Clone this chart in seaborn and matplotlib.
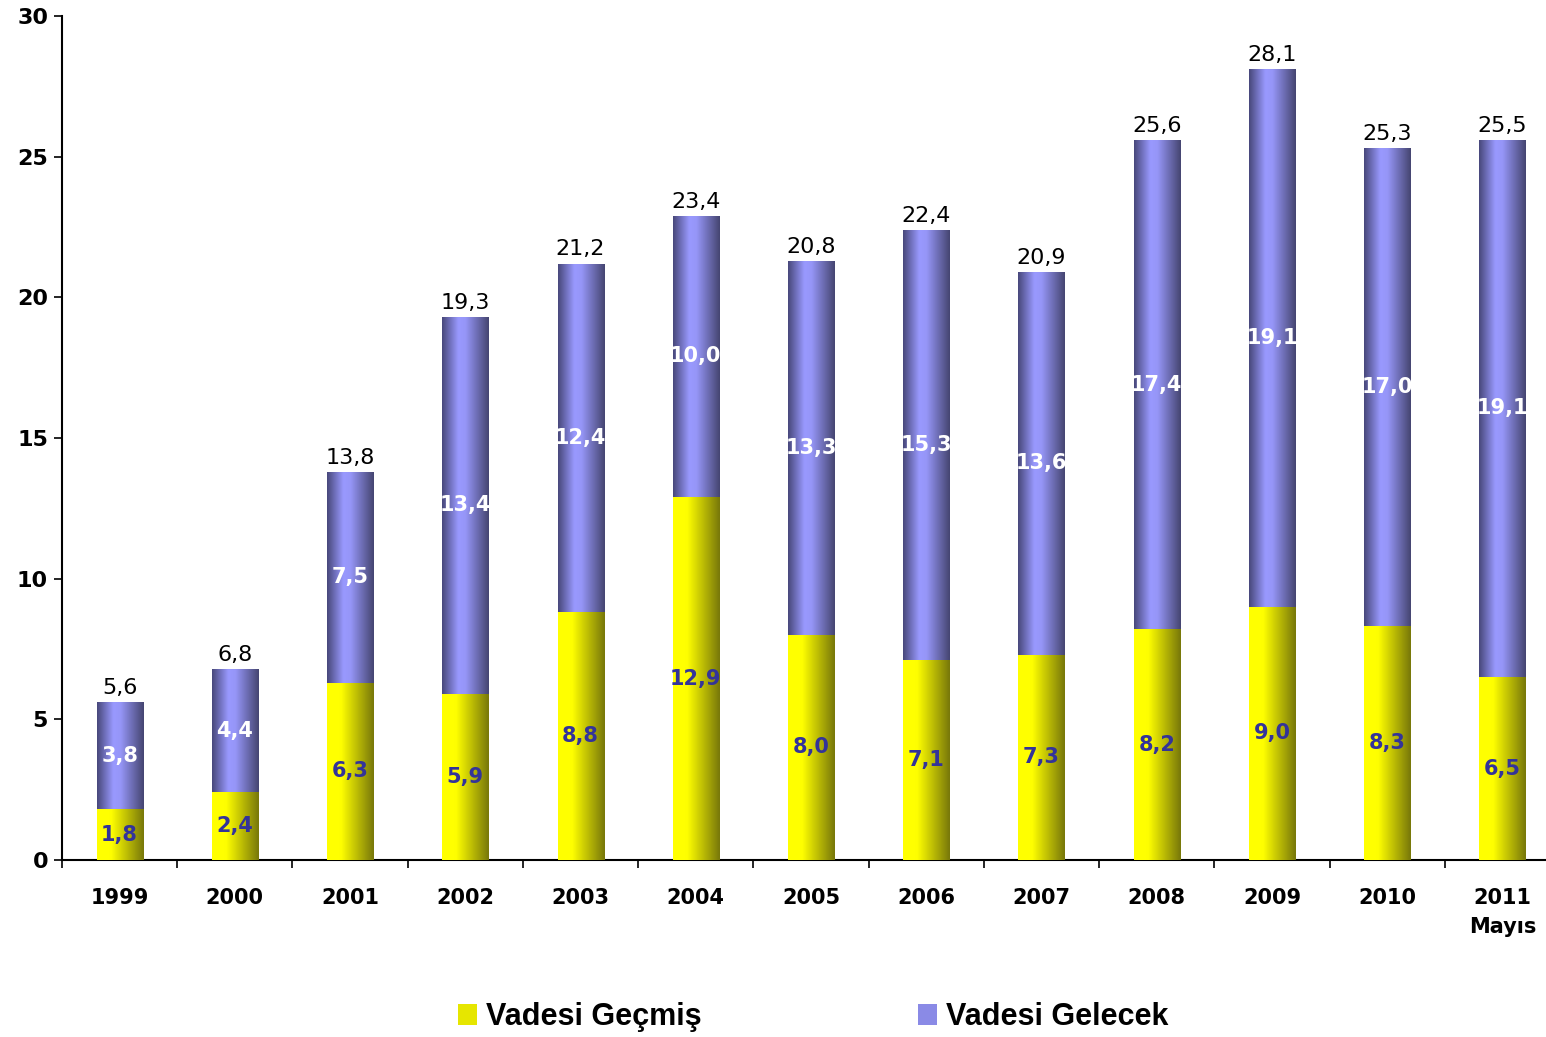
import numpy as np
import pandas as pd
import matplotlib
matplotlib.use("Agg")
import matplotlib.pyplot as plt
import seaborn as sns
from matplotlib.colors import LinearSegmentedColormap
from matplotlib.patches import Patch

years = ["1999", "2000", "2001", "2002", "2003", "2004", "2005",
         "2006", "2007", "2008", "2009", "2010", "2011\nMayıs"]
vadesi_gecmis = [1.8, 2.4, 6.3, 5.9, 8.8, 12.9, 8.0, 7.1, 7.3, 8.2, 9.0, 8.3, 6.5]
vadesi_gelecek = [3.8, 4.4, 7.5, 13.4, 12.4, 10.0, 13.3, 15.3, 13.6, 17.4, 19.1, 17.0, 19.1]
toplam = [5.6, 6.8, 13.8, 19.3, 21.2, 23.4, 20.8, 22.4, 20.9, 25.6, 28.1, 25.3, 25.5]
y_ticks = [0, 5, 10, 15, 20, 25, 30]

yellow_cmap = LinearSegmentedColormap.from_list(
    "yel", [(0, "#ffff00"), (0.3, "#ffff00"), (1, "#77770a")])
purple_cmap = LinearSegmentedColormap.from_list(
    "pur", [(0, "#47477a"), (0.35, "#9999ff"), (0.5, "#9696f8"), (1, "#454570")])


def fmt(v):
    return f"{v:.1f}".replace(".", ",")


def paint_gradient(ax, patches, cmap, z):
    grad = np.linspace(0, 1, 256).reshape(1, -1)
    for p in patches:
        x0, y0 = p.get_x(), p.get_y()
        w, h = p.get_width(), p.get_height()
        im = ax.imshow(grad, cmap=cmap, extent=[x0, x0 + w, y0, y0 + h],
                       aspect="auto", zorder=z, interpolation="bicubic")
        im.set_clip_path(p)
        p.set_facecolor("none")
        p.set_edgecolor("none")


def main():
    sns.set_style("white")
    plt.rcParams["font.family"] = ["DejaVu Sans"]
    plt.rcParams["text.color"] = "black"
    plt.rcParams["xtick.color"] = "black"
    plt.rcParams["ytick.color"] = "black"

    df = pd.DataFrame({"Yil": years, "Gecmis": vadesi_gecmis, "Gelecek": vadesi_gelecek})
    df["Toplam"] = df["Gecmis"] + df["Gelecek"]

    fig = plt.figure(figsize=(15.46, 10.37), dpi=100)
    ax = fig.add_axes([0.0401, 0.1707, 0.9593, 0.8139])

    sns.barplot(data=df, x="Yil", y="Toplam", color="#9999ff", width=0.4,
                saturation=1, ax=ax)
    top_patches = list(ax.patches)
    sns.barplot(data=df, x="Yil", y="Gecmis", color="#ffff00", width=0.4,
                saturation=1, ax=ax)
    bottom_patches = list(ax.patches)[len(top_patches):]

    paint_gradient(ax, top_patches, purple_cmap, 2)
    paint_gradient(ax, bottom_patches, yellow_cmap, 3)

    for i, p in enumerate(bottom_patches):
        xc = p.get_x() + p.get_width() / 2
        g = vadesi_gecmis[i]
        n = vadesi_gelecek[i]
        ax.text(xc, g / 2, fmt(g), ha="center", va="center", fontsize=15,
                fontweight="bold", color="#333399", zorder=5)
        ax.text(xc, g + n / 2, fmt(n), ha="center", va="center", fontsize=15,
                fontweight="bold", color="white", zorder=5)
        ax.text(xc, g + n + 0.5, fmt(toplam[i]), ha="center", va="center",
                fontsize=16, color="black", zorder=5)

    ax.set_yticks(y_ticks)
    ax.set_xticks(np.arange(-0.5, len(years) - 1, 1.0), minor=True)
    ax.set_xlim(-0.5, 12.37)
    ax.set_ylim(0, 30)
    ax.set_xlabel("")
    ax.set_ylabel("")

    ax.tick_params(axis="x", which="major", length=0, pad=20, labelsize=15)
    ax.tick_params(axis="x", which="minor", length=6, width=1.2,
                   direction="out", bottom=True)
    ax.tick_params(axis="y", which="major", length=6, width=1.2,
                   direction="out", left=True, pad=4, labelsize=16)
    for lab in ax.get_xticklabels() + ax.get_yticklabels():
        lab.set_fontweight("bold")
    for lab in ax.get_xticklabels():
        lab.set_linespacing(1.6)

    sns.despine(ax=ax, top=True, right=True)
    for s in ["left", "bottom"]:
        ax.spines[s].set_color("black")
        ax.spines[s].set_linewidth(1.5)

    handles = [Patch(facecolor="#e6e600", edgecolor="none", label="Vadesi Geçmiş"),
               Patch(facecolor="#8a8ae6", edgecolor="none", label="Vadesi Gelecek")]
    fig.legend(handles=handles, loc="center", bbox_to_anchor=(0.526, 0.019),
               ncol=2, frameon=False, columnspacing=7.1, handlelength=0.6,
               handleheight=0.65, handletextpad=0.3,
               prop={"family": "Liberation Sans", "weight": "bold", "size": 22})

    fig.savefig("out.png", dpi=100)


if __name__ == "__main__":
    main()
